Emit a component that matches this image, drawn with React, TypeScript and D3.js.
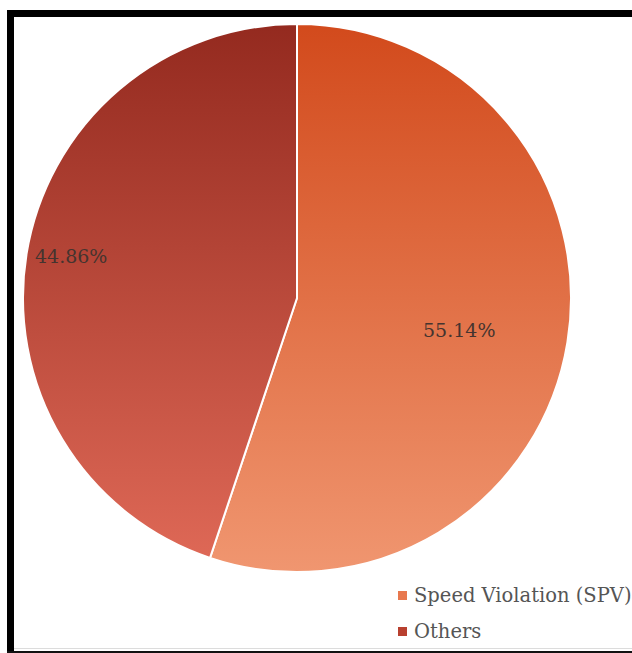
import React from "react";
import * as d3 from "d3";

const categories = ["Speed Violation (SPV)", "Others"];
const values = [55.14, 44.86];
const labels = ["55.14%", "44.86%"];
const topColors = ["#d24a1c", "#942a1f"];
const bottomColors = ["#f09670", "#de6856"];
const legendColors = ["#e8784e", "#b8402f"];
const labelRadiusFrac = [0.6, 0.835];
const labelDy = [6, -5];

const W = 632;
const H = 653;

export default function App() {
  const cx = 297;
  const cy = 298;
  const r = 274;
  const pie = d3
    .pie<number>()
    .sort(null)
    .value((d) => d)
    .startAngle(0)
    .endAngle(2 * Math.PI);
  const arcs = pie(values);
  const arc = d3.arc<d3.PieArcDatum<number>>().innerRadius(0).outerRadius(r);
  const font = "'DejaVu Serif', serif";

  return (
    <svg
      width={W}
      height={H}
      style={{ position: "absolute", left: 0, top: 0, background: "#fff" }}
    >
      <defs>
        {categories.map((c, i) => (
          <linearGradient key={c} id={`g${i}`} x1="0" y1="0" x2="0" y2="1">
            <stop offset="0" stopColor={topColors[i]} />
            <stop offset="1" stopColor={bottomColors[i]} />
          </linearGradient>
        ))}
      </defs>
      <rect x={0} y={0} width={W} height={H} fill="#fff" />
      {/* frame */}
      <rect x={7} y={10} width={W - 7} height={7} fill="#000" />
      <rect x={7} y={10} width={7} height={H - 10} fill="#000" />
      <rect x={14} y={648} width={W - 14} height={1} fill="#dcdcdc" />
      <rect x={7} y={651} width={W - 7} height={2} fill="#111" />
      <g transform={`translate(${cx},${cy})`}>
        {arcs.map((a, i) => (
          <path
            key={i}
            d={arc(a) || ""}
            fill={`url(#g${i})`}
            stroke="#fff"
            strokeWidth={2}
            strokeLinejoin="round"
          />
        ))}
        {arcs.map((a, i) => {
          const mid = (a.startAngle + a.endAngle) / 2;
          const lr = r * labelRadiusFrac[i];
          const x = Math.sin(mid) * lr;
          const y = -Math.cos(mid) * lr + labelDy[i];
          return (
            <text
              key={`l${i}`}
              x={x}
              y={y}
              textAnchor="middle"
              dominantBaseline="central"
              fontFamily={font}
              fontSize={19}
              fill="#45342f"
            >
              {labels[i]}
            </text>
          );
        })}
      </g>
      {categories.map((c, i) => (
        <g key={`lg${i}`} transform={`translate(398,${591 + i * 36})`}>
          <rect x={0} y={0} width={9} height={9} fill={legendColors[i]} />
          <text
            x={16}
            y={11}
            fontFamily={font}
            fontSize={19.5}
            fill="#555"
          >
            {c}
          </text>
        </g>
      ))}
    </svg>
  );
}
